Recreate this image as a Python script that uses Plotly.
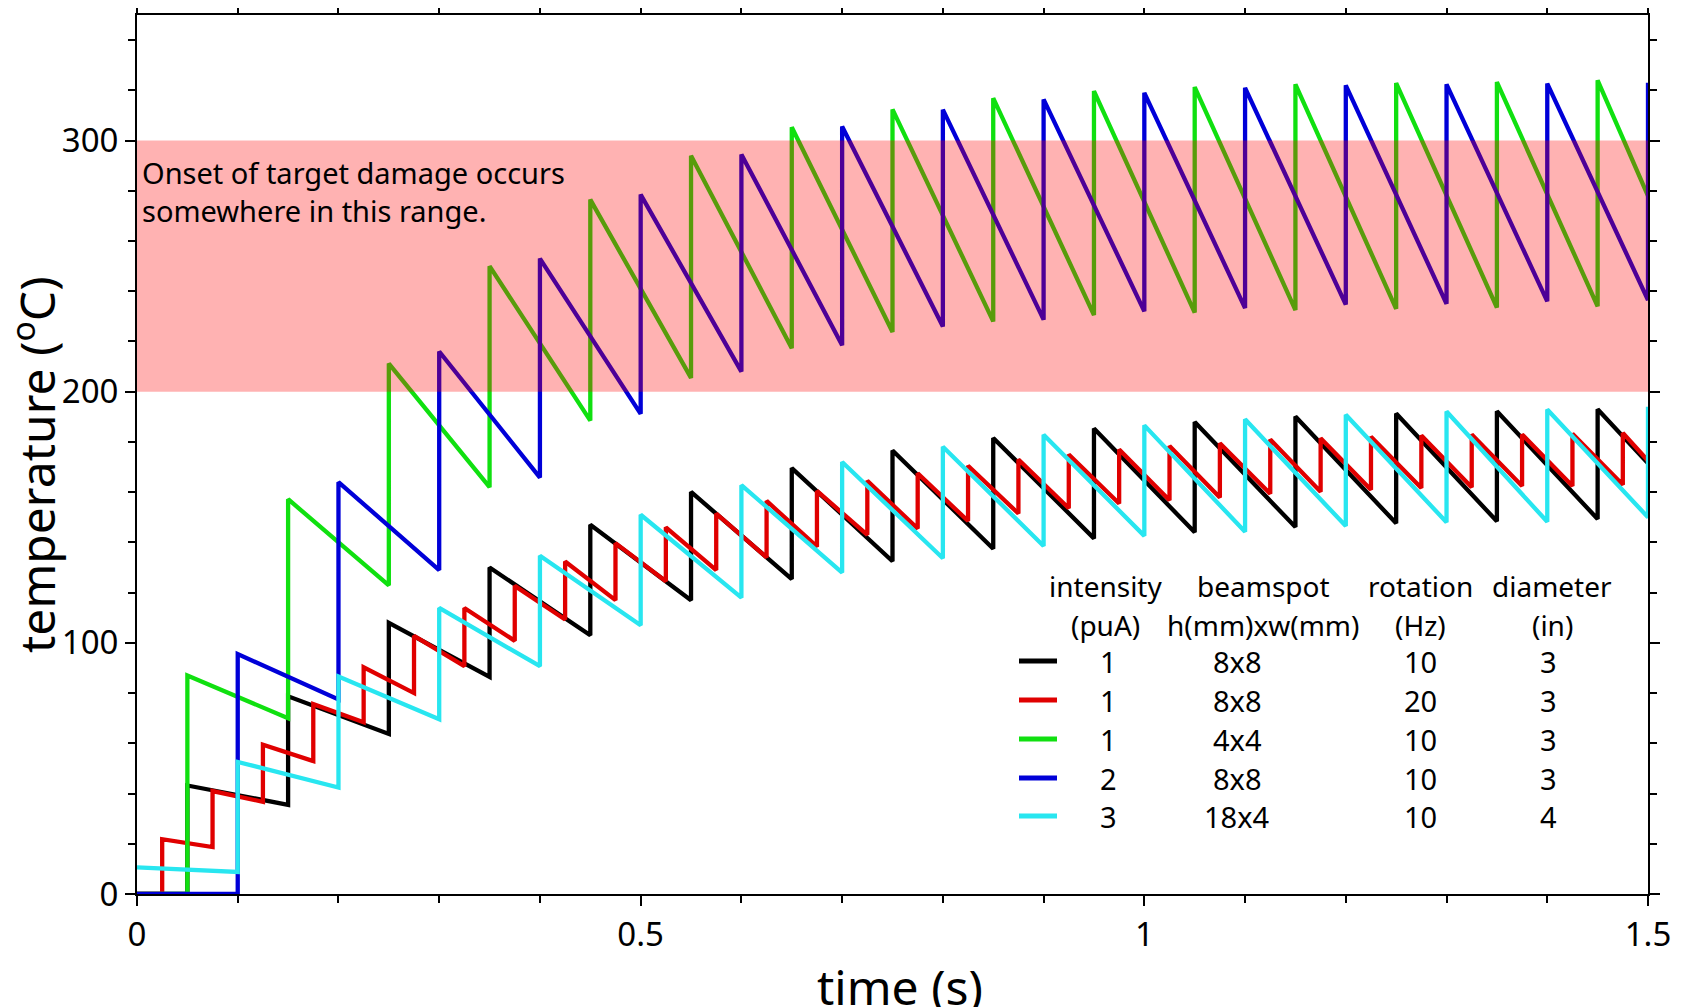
import plotly.graph_objects as go

# ---------------- data ----------------
# black: 1 puA, 8x8, 10 Hz, 3 in
black_start = 0.0
black_t = [0.05, 0.15, 0.25, 0.35, 0.45, 0.55, 0.65, 0.75, 0.85, 0.95, 1.05, 1.15, 1.25, 1.35, 1.45]
black_trough = [0, 35.5, 63.7, 86.4, 103, 117, 125.4, 132.5, 137.5, 141.6, 144, 146.1, 147.6, 148.4, 149.3]
black_peak = [43.2, 78.7, 108, 130, 147, 160.1, 169.6, 176.6, 181.6, 185.4, 187.9, 190.1, 191.3, 192.2, 193]
black_end = 171.5

# red: 1 puA, 8x8, 20 Hz, 3 in
red_start = 0.0
red_t = [0.025, 0.075, 0.125, 0.175, 0.225, 0.275, 0.325, 0.375, 0.425, 0.475,
         0.525, 0.575, 0.625, 0.675, 0.725, 0.775, 0.825, 0.875, 0.925, 0.975,
         1.025, 1.075, 1.125, 1.175, 1.225, 1.275, 1.325, 1.375, 1.425, 1.475]
red_trough = [0, 18.7, 36.7, 52.9, 68.4, 80, 90.7, 100.8, 109.3, 117,
              124.5, 129, 134, 138.3, 143, 145.5, 148.5, 151.5, 153.6, 155.5,
              156.8, 157.9, 159.4, 160.2, 161, 161.7, 162, 162.5, 162.5, 163]
red_peak = [21.8, 41, 59.4, 75.6, 90.3, 102.8, 113.9, 122.7, 132.4, 139.7,
            146, 151.5, 156.5, 160.5, 164.5, 167.5, 170.5, 173, 175, 177,
            178.4, 179.5, 181, 181.5, 182.1, 182.6, 183, 183, 183.3, 183.6]
red_end = 172.5

# green: 1 puA, 4x4, 10 Hz, 3 in
green_start = 0.0
green_t = [0.05, 0.15, 0.25, 0.35, 0.45, 0.55, 0.65, 0.75, 0.85, 0.95, 1.05, 1.15, 1.25, 1.35, 1.45]
green_trough = [0, 70, 122.9, 162, 188.5, 205.5, 217.3, 223.8, 228, 230.5, 231.5, 232.5, 233, 233.5, 234]
green_peak = [87, 157.2, 211.2, 250, 276.5, 294, 305.3, 312.4, 316.9, 319.7, 321.3, 322.4, 322.9, 323.3, 324]
green_end = 278.0

# blue: 2 puA, 8x8, 10 Hz, 3 in
blue_start = 0.0
blue_t = [0.1, 0.2, 0.3, 0.4, 0.5, 0.6, 0.7, 0.8, 0.9, 1.0, 1.1, 1.2, 1.3, 1.4, 1.5]
blue_trough = [0, 77.5, 129, 165.8, 191.2, 208, 218.5, 226, 228.7, 232, 233.3, 234.7, 235, 236, 236.5]
blue_peak = [95.5, 164, 216, 253, 278.5, 294.5, 305.6, 312.3, 316.4, 319, 321, 322, 322.4, 322.7, 323]
blue_end = None

# cyan: 3 puA, 18x4, 10 Hz, 4 in
cyan_start = 10.6
cyan_t = [0.1, 0.2, 0.3, 0.4, 0.5, 0.6, 0.7, 0.8, 0.9, 1.0, 1.1, 1.2, 1.3, 1.4, 1.5]
cyan_trough = [8.8, 42.4, 69.6, 90.7, 107, 118, 128, 133.7, 138.6, 142.6, 144.2, 146.5, 148, 148.2, 150]
cyan_peak = [52.6, 86.6, 113.9, 134.7, 151, 162.8, 172, 178.1, 182.9, 186.6, 189, 190.8, 192.1, 192.9, 194]
cyan_end = None

t_start, t_stop = 0.0, 1.5

legend_header1 = ["intensity", "beamspot", "rotation", "diameter"]
legend_header2 = ["(puA)", "h(mm)xw(mm)", "(Hz)", "(in)"]
legend_intensity = ["1", "1", "1", "2", "3"]
legend_beamspot = ["8x8", "8x8", "4x4", "8x8", "18x4"]
legend_rotation = ["10", "20", "10", "10", "10"]
legend_diameter = ["3", "3", "3", "3", "4"]

band_low, band_high = 200, 300
band_text = "Onset of target damage occurs<br>somewhere in this range."
x_title = "time (s)"
y_title = "temperature (<sup>o</sup>C)"

# ---------------- styles ----------------
colors = ["#000000", "#E00000", "#10E010", "#0000D8", "#28E6F0"]
FONT = "Noto Sans"


def sawtooth(start, times, troughs, peaks, end):
    xs, ys = [t_start], [start]
    for t, lo, hi in zip(times, troughs, peaks):
        xs += [t, t]
        ys += [lo, hi]
    if end is not None:
        xs.append(t_stop)
        ys.append(end)
    return xs, ys


series = [
    (black_start, black_t, black_trough, black_peak, black_end),
    (red_start, red_t, red_trough, red_peak, red_end),
    (green_start, green_t, green_trough, green_peak, green_end),
    (blue_start, blue_t, blue_trough, blue_peak, blue_end),
    (cyan_start, cyan_t, cyan_trough, cyan_peak, cyan_end),
]

fig = go.Figure()
for (s, t, lo, hi, e), c in zip(series, colors):
    xs, ys = sawtooth(s, t, lo, hi, e)
    fig.add_trace(go.Scatter(x=xs, y=ys, mode="lines",
                             line=dict(color=c, width=4.3),
                             showlegend=False, hoverinfo="skip"))

# damage band (semi-transparent, drawn above the curves)
fig.add_shape(type="rect", xref="x", yref="y", x0=t_start, x1=t_stop,
              y0=band_low, y1=band_high, fillcolor="rgba(255,0,0,0.3)",
              line=dict(width=0), layer="above")
fig.add_annotation(x=0.003, y=296, xref="x", yref="y", text=band_text,
                   showarrow=False, xanchor="left", yanchor="top", align="left",
                   font=dict(family=FONT, size=29, color="black"))

# ---- positions in page px (page = figure + 8px body offset) ----
OFF = 8
L, R, T, B = 137 - OFF, 1648 - OFF, 15 - OFF, 894 - OFF


def px(xp):
    return (xp - OFF - L) / (R - L)


def py(yp):
    return (B - (yp - OFF)) / (B - T)


# axis titles
fig.add_annotation(x=px(900), y=py(986), xref="paper", yref="paper", text=x_title,
                   showarrow=False, xanchor="center", yanchor="middle",
                   font=dict(family=FONT, size=48, color="black"))
fig.add_annotation(x=px(34), y=py(465), xref="paper", yref="paper", text=y_title,
                   showarrow=False, xanchor="center", yanchor="middle", textangle=-90,
                   font=dict(family=FONT, size=48, color="black"))

# custom table legend
col_hdr_x = [1105, 1263, 1420, 1552]
col_val_x = [1108, 1237, 1420, 1548]
hdr_y = [586, 625]
row_y = [661, 700, 739, 778, 816]

for cx, h1, h2 in zip(col_hdr_x, legend_header1, legend_header2):
    fig.add_annotation(x=px(cx), y=py(hdr_y[0]), xref="paper", yref="paper", text=h1,
                       showarrow=False, xanchor="center", yanchor="middle",
                       font=dict(family=FONT, size=28, color="black"))
    fig.add_annotation(x=px(cx), y=py(hdr_y[1]), xref="paper", yref="paper", text=h2,
                       showarrow=False, xanchor="center", yanchor="middle",
                       font=dict(family=FONT, size=28, color="black"))

columns = [legend_intensity, legend_beamspot, legend_rotation, legend_diameter]
for i, (ry, c) in enumerate(zip(row_y, colors)):
    fig.add_shape(type="line", xref="paper", yref="paper",
                  x0=px(1019), x1=px(1057), y0=py(ry), y1=py(ry),
                  line=dict(color=c, width=5))
    for cx, col in zip(col_val_x, columns):
        fig.add_annotation(x=px(cx), y=py(ry), xref="paper", yref="paper", text=col[i],
                           showarrow=False, xanchor="center", yanchor="middle",
                           font=dict(family=FONT, size=29, color="black"))

axis_common = dict(showline=True, linewidth=2, linecolor="black", mirror="ticks",
                   ticks="outside", ticklen=10, tickwidth=1.5, tickcolor="black",
                   showgrid=False, zeroline=False,
                   tickfont=dict(family=FONT, size=33, color="black"))

fig.update_xaxes(range=[0, 1.5], dtick=0.5, tick0=0,
                 minor=dict(dtick=0.1, ticklen=7, ticks="outside", tickcolor="black", tickwidth=1.5),
                 **axis_common)
fig.update_yaxes(range=[0, 350], dtick=100, tick0=0,
                 minor=dict(dtick=20, ticklen=7, ticks="outside", tickcolor="black", tickwidth=1.5),
                 **axis_common)

fig.update_layout(width=1681, height=1007, plot_bgcolor="white", paper_bgcolor="white",
                  margin=dict(l=L, r=1681 - R, t=T, b=1007 - B, autoexpand=False),
                  showlegend=False)

fig.write_html("out.html")
